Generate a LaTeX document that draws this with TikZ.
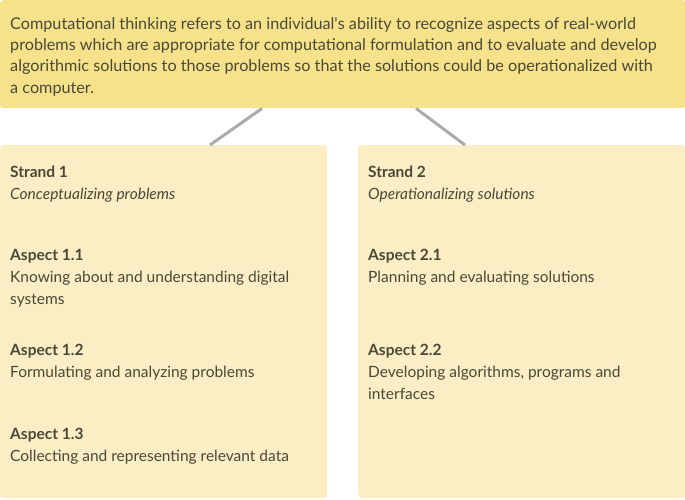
\documentclass[tikz,border=0pt]{standalone}
\usepackage{fontspec}
\setmainfont{Lato}
\usepackage{xcolor}
\usepackage{tikz}

\definecolor{topfill}{HTML}{F6E28A}
\definecolor{boxfill}{HTML}{FBEDC4}
\definecolor{ink}{HTML}{4A4838}

\tikzset{
  panel/.style={fill=#1, rounded corners=3pt, inner sep=0pt, anchor=north west},
  txt/.style={anchor=base west, inner sep=0pt, text=ink, align=left, font=\fontsize{15.5}{22}\selectfont},
  head/.style={txt, font=\fontsize{15.5}{22}\selectfont\bfseries},
  link/.style={draw=black!33, line width=3pt}
}

\begin{document}
\begin{tikzpicture}[x=1pt,y=-1pt]
\useasboundingbox (0,0) rectangle (685,499);
\node[panel=topfill, minimum width=685pt, minimum height=108pt] (def) at (0,0) {};
\node[panel=boxfill, minimum width=327pt, minimum height=353pt] (left) at (0,145) {};
\node[panel=boxfill, minimum width=327pt, minimum height=353pt] (right) at (358,145) {};

% definition text (base = last line)
\node[txt, font=\fontsize{16.2}{21.3}\selectfont] (deftxt) at (10,93)
  {Computational thinking refers to an individual\textquotesingle s ability to recognize aspects of real-world\\
   problems which are appropriate for computational formulation and to evaluate and develop\\
   algorithmic solutions to those problems so that the solutions could be operationalized with\\
   a computer.};

% links to strands
\draw[link] ([xshift=262pt]def.south west) -- ([xshift=210pt]left.north west);
\draw[link] ([xshift=416pt]def.south west) -- ([xshift=107pt]right.north west);

% strand 1
\node[head] (str1) at (10,177) {Strand 1};
\node[txt, font=\fontsize{15.5}{22}\selectfont\itshape] (str1t) at (10,199) {Conceptualizing problems};
\node[head] (asp11) at (10,260) {Aspect 1.1};
\node[txt] (asp11t) at (10,304) {Knowing about and understanding digital\\systems};
\node[head] (asp12) at (10,355) {Aspect 1.2};
\node[txt] (asp12t) at (10,377) {Formulating and analyzing problems};
\node[head] (asp13) at (10,439) {Aspect 1.3};
\node[txt] (asp13t) at (10,461) {Collecting and representing relevant data};

% strand 2
\node[head] (str2) at (368,177) {Strand 2};
\node[txt, font=\fontsize{15.5}{22}\selectfont\itshape] (str2t) at (368,199) {Operationalizing solutions};
\node[head] (asp21) at (368,260) {Aspect 2.1};
\node[txt] (asp21t) at (368,282) {Planning and evaluating solutions};
\node[head] (asp22) at (368,355) {Aspect 2.2};
\node[txt] (asp22t) at (368,399) {Developing algorithms, programs and\\interfaces};
\end{tikzpicture}
\end{document}
